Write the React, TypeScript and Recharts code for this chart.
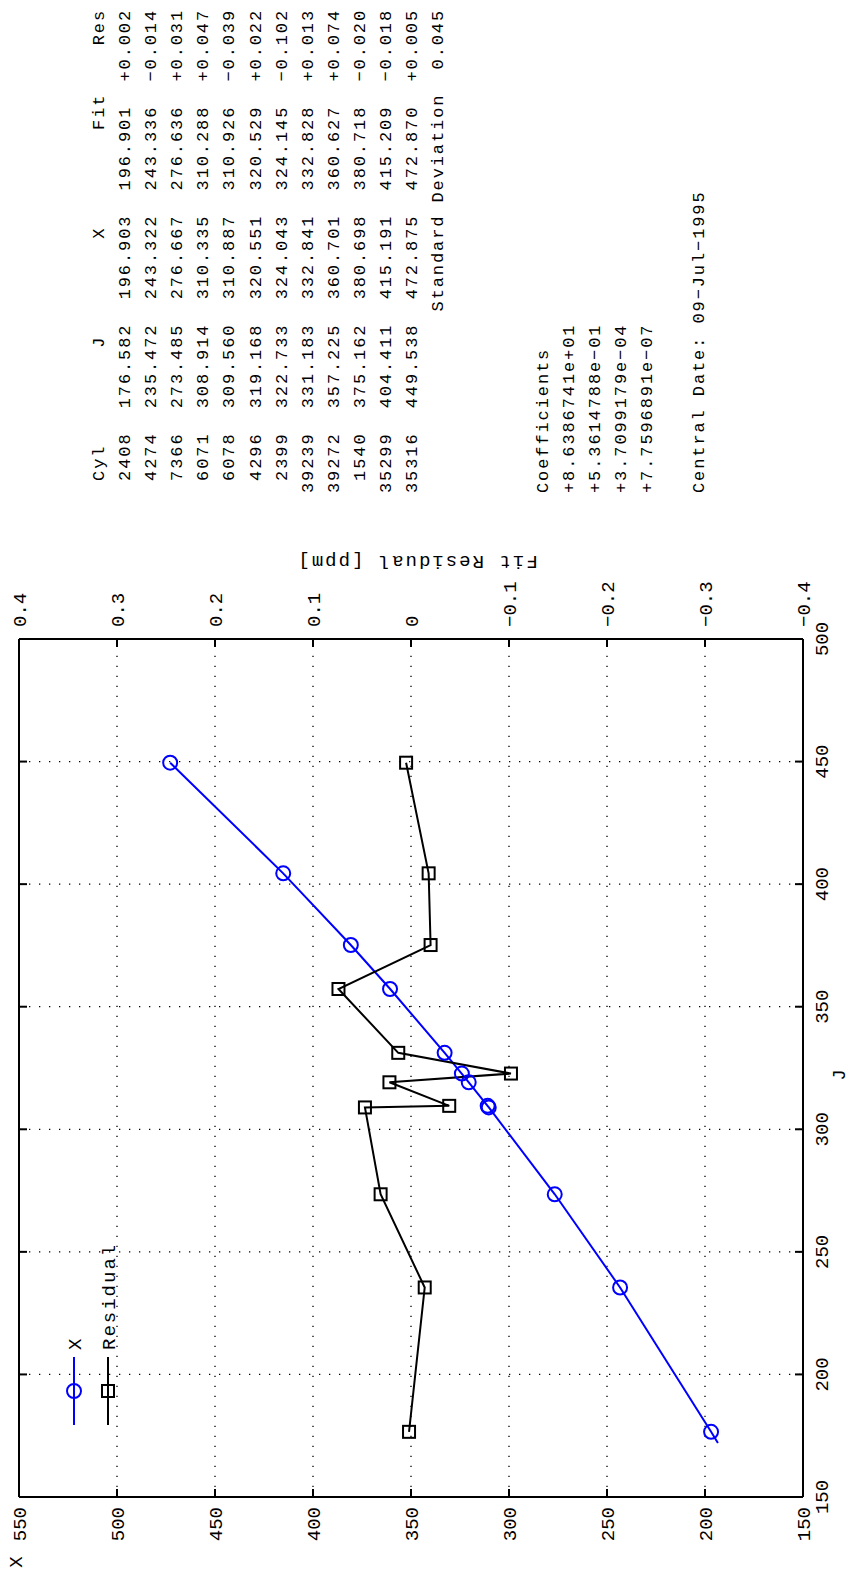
import React from 'react';
import { ComposedChart, Line, XAxis, YAxis, CartesianGrid } from 'recharts';

// ---- data ----
const cylinders = [2408, 4274, 7366, 6071, 6078, 4296, 2399, 39239, 39272, 1540, 35299, 35316];
const jValues = [176.582, 235.472, 273.485, 308.914, 309.56, 319.168, 322.733, 331.183, 357.225, 375.162, 404.411, 449.538];
const xValues = [196.903, 243.322, 276.667, 310.335, 310.887, 320.551, 324.043, 332.841, 360.701, 380.698, 415.191, 472.875];
const fitValues = [196.901, 243.336, 276.636, 310.288, 310.926, 320.529, 324.145, 332.828, 360.627, 380.718, 415.209, 472.87];
const resValues = [0.002, -0.014, 0.031, 0.047, -0.039, 0.022, -0.102, 0.013, 0.074, -0.02, -0.018, 0.005];
const fitLineStart = { J: 172.0, Fit: 193.4 };
const coefficients = ['+8.6386741e+01', '+5.3614788e-01', '+3.7099179e-04', '+7.7596891e-07'];
const standardDeviation = '0.045';
const centralDate = '09-Jul-1995';
const jTicks = [150, 200, 250, 300, 350, 400, 450, 500];
const xTicks = [150, 200, 250, 300, 350, 400, 450, 500, 550];
const resTicks = [-0.4, -0.3, -0.2, -0.1, 0, 0.1, 0.2, 0.3, 0.4];

// ---- layout (unrotated landscape frame) ----
const W = 1579;
const H = 851;
const PL = 82;
const PR = 940;
const PT = 19;
const PB = 803;
const TL = 8;
const MONO = "'Liberation Mono', 'DejaVu Sans Mono', monospace";
const MINUS = '\u2212';

const fmtSigned = (v: number, d: number) => (v < 0 ? MINUS : '+') + Math.abs(v).toFixed(d);
const fmtRes = (v: number) => (v === 0 ? '0' : (v < 0 ? MINUS : '') + Math.abs(Math.round(v * 10) / 10).toFixed(1));

const tickText = { fontFamily: MONO, fontSize: 19, fill: '#000' } as const;

const JTick = (p: any) => (
  <g>
    <text x={p.x} y={828} textAnchor="middle" style={tickText}>{p.payload.value}</text>
    <line x1={p.x} x2={p.x} y1={PB} y2={PB - TL} stroke="#000" strokeWidth={2} />
  </g>
);
const JTopTick = (p: any) => (
  <line x1={p.x} x2={p.x} y1={PT} y2={PT + TL} stroke="#000" strokeWidth={2} />
);
const XTick = (p: any) => (
  <g>
    <text x={72} y={p.y + 6.6} textAnchor="end" style={tickText}>{p.payload.value}</text>
    <line x1={PL} x2={PL + TL} y1={p.y} y2={p.y} stroke="#000" strokeWidth={2} />
  </g>
);
const ResTick = (p: any) => (
  <g>
    <text x={952} y={p.y + 6.6} textAnchor="start" style={tickText}>{fmtRes(p.payload.value)}</text>
    <line x1={PR} x2={PR - TL} y1={p.y} y2={p.y} stroke="#000" strokeWidth={2} />
  </g>
);

const CircleDot = (p: any) => (
  <circle key={p.key} cx={p.cx} cy={p.cy} r={7} fill="none" stroke="#0000ff" strokeWidth={2} />
);
const SquareDot = (p: any) => (
  <rect key={p.key} x={p.cx - 6} y={p.cy - 6} width={12} height={12} fill="none" stroke="#000" strokeWidth={2} />
);

const headerLine = ' Cyl        J        X        Fit    Res';
const rowLines = cylinders.map(
  (c, i) =>
    String(c).padStart(5) +
    jValues[i].toFixed(3).padStart(9) +
    xValues[i].toFixed(3).padStart(9) +
    fitValues[i].toFixed(3).padStart(9) +
    fmtSigned(resValues[i], 3).padStart(8)
);
const textLines: string[] = [
  headerLine,
  ...rowLines,
  ' '.repeat(15) + 'Standard Deviation  ' + standardDeviation,
  '',
  '',
  '',
  'Coefficients',
  ...coefficients.map((s) => s.replace(/-/g, MINUS)),
  '',
  'Central Date: ' + centralDate.replace(/-/g, MINUS),
];

export default function App() {
  const fitData = [fitLineStart, ...jValues.map((j, i) => ({ J: j, Fit: fitValues[i] }))];
  const xData = jValues.map((j, i) => ({ J: j, X: xValues[i] }));
  const resData = jValues.map((j, i) => ({ J: j, Res: resValues[i] }));
  const axisLine = { stroke: '#000', strokeWidth: 2 };

  return (
    <>
      <style>{'body{margin:0;overflow:hidden;background:#fff}'}</style>
      <div
        style={{
          position: 'absolute',
          left: 0,
          top: 0,
          width: W,
          height: H,
          transformOrigin: '0 0',
          transform: `translateY(${W}px) rotate(-90deg)`,
          background: '#fff',
        }}
      >
        <ComposedChart width={W} height={H} margin={{ top: 0, right: 0, bottom: 0, left: 0 }}>
          <CartesianGrid xAxisId="j" yAxisId="x" stroke="#000" strokeWidth={1.3} strokeDasharray="1.3 8.7" />
          <XAxis
            xAxisId="j"
            dataKey="J"
            type="number"
            domain={[150, 500]}
            ticks={jTicks}
            interval={0}
            height={H - PB}
            allowDataOverflow
            axisLine={axisLine}
            tickLine={false}
            tick={JTick}
          />
          <XAxis
            xAxisId="jt"
            orientation="top"
            dataKey="J"
            type="number"
            domain={[150, 500]}
            ticks={jTicks}
            interval={0}
            height={PT}
            allowDataOverflow
            axisLine={axisLine}
            tickLine={false}
            tick={JTopTick}
          />
          <YAxis
            yAxisId="x"
            type="number"
            domain={[150, 550]}
            ticks={xTicks}
            interval={0}
            width={PL}
            allowDataOverflow
            axisLine={axisLine}
            tickLine={false}
            tick={XTick}
          />
          <YAxis
            yAxisId="res"
            orientation="right"
            type="number"
            domain={[-0.4, 0.4]}
            ticks={resTicks}
            interval={0}
            width={W - PR}
            allowDataOverflow
            axisLine={axisLine}
            tickLine={false}
            tick={ResTick}
          />
          <Line
            xAxisId="j"
            yAxisId="x"
            data={fitData}
            dataKey="Fit"
            stroke="#0000ff"
            strokeWidth={2}
            dot={false}
            isAnimationActive={false}
          />
          <Line
            xAxisId="j"
            yAxisId="x"
            data={xData}
            dataKey="X"
            stroke="none"
            strokeWidth={0}
            dot={CircleDot}
            isAnimationActive={false}
          />
          <Line
            xAxisId="j"
            yAxisId="res"
            data={resData}
            dataKey="Res"
            stroke="#000"
            strokeWidth={2}
            dot={SquareDot}
            isAnimationActive={false}
          />
        </ComposedChart>

        <svg
          width={W}
          height={H}
          style={{ position: 'absolute', left: 0, top: 0, pointerEvents: 'none' }}
        >
          <g style={{ fontFamily: MONO, fontSize: 19, letterSpacing: 2 }}>
            <text x={505} y={845} textAnchor="middle">J</text>
            <text x={18} y={22} textAnchor="middle">X</text>
            <text
              x={1018}
              y={417}
              textAnchor="middle"
              dominantBaseline="central"
              transform="rotate(-90 1018 417)"
            >
              Fit Residual [ppm]
            </text>
            <line x1={154} x2={222} y1={74} y2={74} stroke="#0000ff" strokeWidth={2} />
            <circle cx={188} cy={74} r={7} fill="none" stroke="#0000ff" strokeWidth={2} />
            <text x={229} y={81}>X</text>
            <line x1={154} x2={222} y1={108} y2={108} stroke="#000" strokeWidth={2} />
            <rect x={182} y={102} width={12} height={12} fill="none" stroke="#000" strokeWidth={2} />
            <text x={229} y={115}>Residual</text>
          </g>
        </svg>

        <div
          style={{
            position: 'absolute',
            left: 1086,
            top: 87,
            fontFamily: MONO,
            fontSize: 17,
            letterSpacing: 1.9,
            lineHeight: '26.1px',
            whiteSpace: 'pre',
            color: '#000',
          }}
        >
          {textLines.map((l, i) => (
            <div key={i} style={{ height: 26.1 }}>{l || ' '}</div>
          ))}
        </div>
      </div>
    </>
  );
}
